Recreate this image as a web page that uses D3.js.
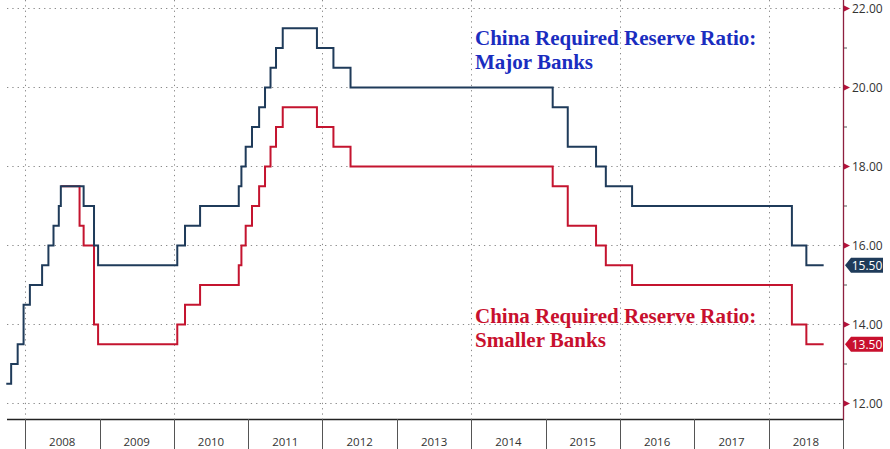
<!DOCTYPE html>
<html>
<head>
<meta charset="utf-8">
<script src="https://cdn.jsdelivr.net/npm/d3@7"></script>
<style>
  html, body { margin: 0; padding: 0; background: #fff; }
  svg { display: block; }
</style>
</head>
<body>
<svg id="chart" width="890" height="449"></svg>
<script>
// ---------------- DATA ----------------
const majorDates = ["2007-10-01","2007-10-25","2007-11-26","2007-12-25","2008-01-25","2008-03-25","2008-04-25","2008-05-20","2008-06-15","2008-06-25","2008-10-15","2008-12-05","2008-12-25","2010-01-18","2010-02-25","2010-05-10","2010-11-16","2010-11-29","2010-12-20","2011-01-20","2011-02-24","2011-03-25","2011-04-21","2011-05-18","2011-06-20","2011-12-05","2012-02-24","2012-05-18","2015-02-05","2015-04-20","2015-09-06","2015-10-24","2016-03-01","2018-04-25","2018-07-05","2018-09-28"];
const majorValues = [12.5,13,13.5,14.5,15,15.5,16,16.5,17,17.5,17,16,15.5,16,16.5,17,17.5,18,18.5,19,19.5,20,20.5,21,21.5,21,20.5,20,19.5,18.5,18,17.5,17,16,15.5,15.5];

// Smaller banks (identical to major banks before mid-2008; drawn from where they split)
const smallerDates = ["2008-06-25","2008-09-25","2008-10-15","2008-12-05","2008-12-25","2010-01-18","2010-02-25","2010-05-10","2010-11-16","2010-11-29","2010-12-20","2011-01-20","2011-02-24","2011-03-25","2011-04-21","2011-05-18","2011-06-20","2011-12-05","2012-02-24","2012-05-18","2015-02-05","2015-04-20","2015-09-06","2015-10-24","2016-03-01","2018-04-25","2018-07-05","2018-09-28"];
const smallerValues = [17.5,16.5,16,14,13.5,14,14.5,15,15.5,16,16.5,17,17.5,18,18.5,19,19.5,19,18.5,18,17.5,16.5,16,15.5,15,14,13.5,13.5];

const yearLabels = ["2008","2009","2010","2011","2012","2013","2014","2015","2016","2017","2018"];
const yTickValues = [12,14,16,18,20,22];
const yMinorValues = [13,15,17,19,21];
const gridYears = ["2008","2010","2012","2014","2016","2018"];

const majorLabel = ["China Required Reserve Ratio:", "Major Banks"];
const smallerLabel = ["China Required Reserve Ratio:", "Smaller Banks"];
const lastValues = [15.50, 13.50];

// ---------------- LAYOUT ----------------
const W = 890, H = 449;
const plotLeft = 7, plotRight = 843, plotBottom = 419;
const parse = d3.timeParse("%Y-%m-%d");

const x = d3.scaleTime()
  .domain([new Date(2008,0,1), new Date(2019,0,1)])
  .range([25, plotRight]);
const y = d3.scaleLinear().domain([12, 22]).range([403.5, 8.5]);

const svg = d3.select("#chart");

const blueLine = "#1f3b5a";
const redLine = "#c4142f";
const axisRed = "#8e1f3f";

// gridlines horizontal
svg.append("g").selectAll("line").data(yTickValues).join("line")
  .attr("x1", plotLeft).attr("x2", plotRight)
  .attr("y1", d => y(d)).attr("y2", d => y(d))
  .attr("stroke", "#8a8a8a").attr("stroke-width", 1)
  .attr("stroke-dasharray", "1.3,4");

// gridlines vertical
svg.append("g").selectAll("line").data(gridYears).join("line")
  .attr("x1", d => Math.round(x(new Date(+d,0,1))) + 0.5)
  .attr("x2", d => Math.round(x(new Date(+d,0,1))) + 0.5)
  .attr("y1", 0).attr("y2", plotBottom)
  .attr("stroke", "#8a8a8a").attr("stroke-width", 1)
  .attr("stroke-dasharray", "1.3,4");

// bottom axis line
svg.append("line")
  .attr("x1", plotLeft).attr("x2", plotRight)
  .attr("y1", plotBottom + 0.5).attr("y2", plotBottom + 0.5)
  .attr("stroke", "#222").attr("stroke-width", 1.3);

// year separators
const bounds = yearLabels.map(d => new Date(+d,0,1)).concat([new Date(2019,0,1)]);
svg.append("g").selectAll("line").data(bounds).join("line")
  .attr("x1", d => Math.round(x(d)) + 0.5).attr("x2", d => Math.round(x(d)) + 0.5)
  .attr("y1", plotBottom).attr("y2", H)
  .attr("stroke", "#555").attr("stroke-width", 1);

// year labels
svg.append("g").selectAll("text").data(yearLabels).join("text")
  .attr("x", d => (x(new Date(+d,0,1)) + x(new Date(+d + 1,0,1))) / 2)
  .attr("y", 446)
  .attr("text-anchor", "middle")
  .attr("font-family", "'Open Sans', 'DejaVu Sans', sans-serif")
  .attr("font-size", 11.5)
  .attr("fill", "#333")
  .text(d => d);

// right axis line
svg.append("line")
  .attr("x1", plotRight + 0.5).attr("x2", plotRight + 0.5)
  .attr("y1", 0).attr("y2", plotBottom + 1)
  .attr("stroke", axisRed).attr("stroke-width", 1.3);

// minor ticks
svg.append("g").selectAll("line").data(yMinorValues).join("line")
  .attr("x1", plotRight + 1).attr("x2", plotRight + 4)
  .attr("y1", d => y(d)).attr("y2", d => y(d))
  .attr("stroke", "#555").attr("stroke-width", 1);

// major tick triangles + labels
svg.append("g").selectAll("path").data(yTickValues).join("path")
  .attr("d", d => `M${plotRight+1},${y(d)-3} L${plotRight+7},${y(d)} L${plotRight+1},${y(d)+3} Z`)
  .attr("fill", "#b3123a");
svg.append("g").selectAll("text").data(yTickValues).join("text")
  .attr("x", plotRight + 9).attr("y", d => y(d) + 4.5)
  .attr("font-family", "'Open Sans', 'DejaVu Sans', sans-serif")
  .attr("font-size", 12)
  .attr("fill", "#333")
  .text(d => d3.format(".2f")(d));

// lines
const line = d3.line()
  .x(d => x(d[0])).y(d => y(d[1]))
  .curve(d3.curveStepAfter);
const smallerData = smallerDates.map((d, i) => [parse(d), smallerValues[i]]);
const majorData = majorDates.map((d, i) => [parse(d), majorValues[i]]);

svg.append("path").datum(smallerData)
  .attr("d", line).attr("fill", "none")
  .attr("stroke", redLine).attr("stroke-width", 2);
svg.append("path").datum(majorData)
  .attr("d", line).attr("fill", "none")
  .attr("stroke", blueLine).attr("stroke-width", 2);

// value tags
const tagColors = [blueLine, "#c8102e"];
lastValues.forEach((v, i) => {
  const cy = y(v);
  const g = svg.append("g");
  g.append("path")
    .attr("d", `M${plotRight+2},${cy} L${plotRight+8},${cy-7.5} L${plotRight+40},${cy-7.5} L${plotRight+40},${cy+7.5} L${plotRight+8},${cy+7.5} Z`)
    .attr("fill", tagColors[i]);
  g.append("text")
    .attr("x", plotRight + 24).attr("y", cy + 4.5)
    .attr("text-anchor", "middle")
    .attr("font-family", "'Open Sans', 'DejaVu Sans', sans-serif")
    .attr("font-size", 12)
    .attr("fill", "#fff")
    .text(d3.format(".2f")(v));
});

// annotations
function annot(lines, x0, y0, color) {
  const t = svg.append("text")
    .attr("font-family", "'Liberation Serif', 'Times New Roman', serif")
    .attr("font-weight", "bold")
    .attr("font-size", 21)
    .attr("fill", color);
  lines.forEach((s, i) => {
    t.append("tspan").attr("x", x0).attr("y", y0 + i * 23.5).text(s);
  });
  return t;
}
annot(majorLabel, 475, 45, "#1a2dbf");
annot(smallerLabel, 475, 323, "#c8102e");
</script>
</body>
</html>
